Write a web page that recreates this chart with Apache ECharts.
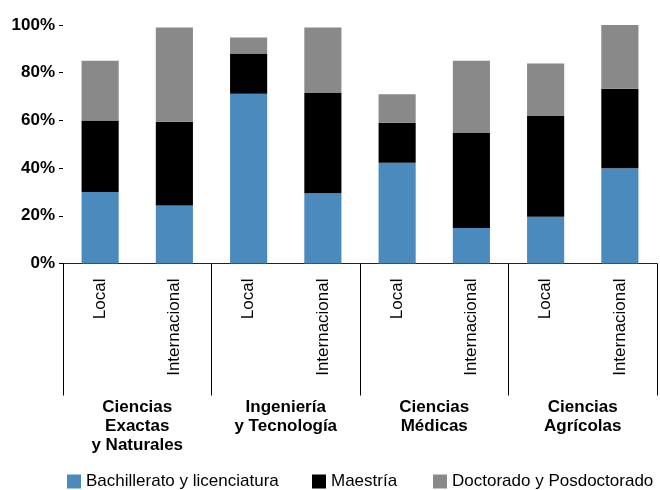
<!DOCTYPE html>
<html>
<head>
<meta charset="utf-8">
<script src="https://cdn.jsdelivr.net/npm/echarts@6/dist/echarts.min.js"></script>
<style>html,body{margin:0;padding:0;background:#fff}#c{width:660px;height:490px}</style>
</head>
<body>
<div id="c"></div>
<script>
const groups = ['Ciencias\nExactas\ny Naturales', 'Ingeniería\ny Tecnología', 'Ciencias\nMédicas', 'Ciencias\nAgrícolas'];
const categories = ['Local', 'Internacional', 'Local', 'Internacional', 'Local', 'Internacional', 'Local', 'Internacional'];
const seriesNames = ['Bachillerato y licenciatura', 'Maestría', 'Doctorado y Posdoctorado'];
const bachillerato = [30.0, 24.3, 71.2, 29.5, 42.2, 14.9, 19.6, 39.9];
const maestria = [30.0, 35.1, 16.8, 42.0, 16.8, 39.8, 42.2, 33.4];
const doctorado = [25.0, 39.5, 6.8, 27.4, 12.0, 30.3, 22.1, 26.7];
const yTicks = [0, 20, 40, 60, 80, 100];

const FONT = "'Liberation Sans', Arial, sans-serif";
const colors = ['#4B8ABD', '#000000', '#898989'];
const values = [bachillerato, maestria, doctorado];
const legendLefts = [67, 312, 433];

const chart = echarts.init(document.getElementById('c'), null, {renderer: 'canvas'});
chart.setOption({
  animation: false,
  textStyle: {fontFamily: FONT},
  grid: {left: 63, right: 3, top: 25, bottom: 226.5, containLabel: false},
  legend: seriesNames.map((name, i) => ({
    left: legendLefts[i], top: 473, padding: 0, itemWidth: 14, itemHeight: 14,
    icon: 'rect',
    textStyle: {fontFamily: FONT, fontSize: 17, color: '#000'},
    data: [name]
  })),
  xAxis: [
    {
      type: 'category', data: categories, position: 'bottom',
      axisLine: {show: true, lineStyle: {color: '#222', width: 1}},
      axisTick: {show: false},
      axisLabel: {rotate: 90, margin: 15, fontFamily: FONT, fontSize: 17, color: '#000', interval: 0}
    },
    {
      type: 'category', data: groups, position: 'bottom', gridIndex: 0,
      axisLine: {show: false},
      axisTick: {show: true, length: 132, inside: false, alignWithLabel: false, lineStyle: {color: '#000', width: 1}, interval: 0},
      axisLabel: {margin: 134, fontFamily: FONT, fontSize: 17, fontWeight: 'bold', lineHeight: 19, color: '#000', interval: 0, align: 'center'}
    }
  ],
  yAxis: {
    type: 'value', min: 0, max: 100, interval: 20,
    axisLine: {show: false},
    axisTick: {show: true, length: 4, lineStyle: {color: '#000'}},
    splitLine: {show: false},
    axisLabel: {formatter: v => yTicks.includes(v) ? v + '%' : '', margin: 8, fontFamily: FONT, fontSize: 17, fontWeight: 'bold', color: '#000'}
  },
  series: seriesNames.map((name, i) => ({
    name, type: 'bar', stack: 'total', xAxisIndex: 0, barWidth: '50%',
    itemStyle: {color: colors[i]},
    data: values[i]
  }))
});
</script>
</body>
</html>
